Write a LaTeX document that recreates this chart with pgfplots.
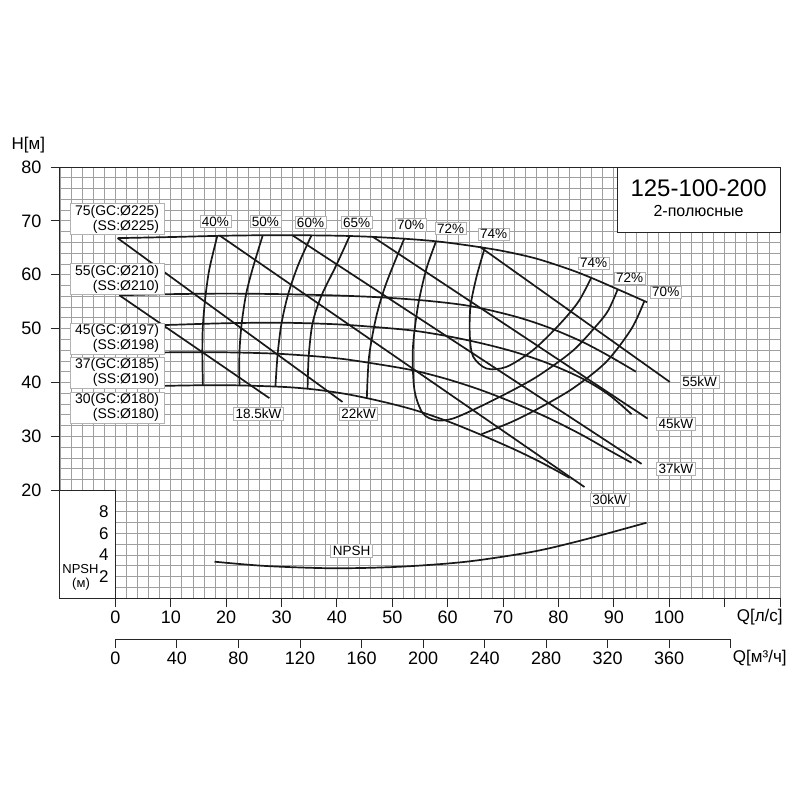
\documentclass[border=0pt]{standalone}
\usepackage{fontspec}
\setmainfont{Liberation Sans}
\usepackage{pgfplots}
\pgfplotsset{compat=1.18}
\pgfplotsset{
 crv/.style={black!90, line width=1.7pt, smooth, mark=none},
 lin/.style={black!90, line width=1.7pt, mark=none},
}
\tikzset{
 lbl/.style={fill=white, draw=gray!60, line width=0.6pt, inner xsep=2pt, inner ysep=1.5pt, font=\fontsize{13.5}{13.5}\selectfont},
 dlbl/.style={fill=white, draw=gray!60, line width=0.6pt, inner xsep=5pt, inner ysep=1.5pt, align=right, anchor=east, font=\fontsize{14}{15}\selectfont},
}
\begin{document}
\begin{tikzpicture}[x=1pt,y=1pt]
\useasboundingbox (-60,-202) rectangle (740,598);
\begin{axis}[
  at={(0,0)}, anchor=south west,
  scale only axis, width=720pt, height=431pt,
  xmin=-10, xmax=120, ymin=0, ymax=80,
  clip=false,
  axis line style={draw=none},
  minor xtick={-10,-8,...,120},
  minor ytick={0,2,...,80},
  grid=minor,
  minor grid style={gray!75, line width=0.8pt},
  minor tick length=0pt,
  xtick={0,10,...,120},
  xticklabels={0,10,20,30,40,50,60,70,80,90,100,{},{}},
  ytick={20,30,...,80},
  tick pos=left,
  tick align=outside,
  major tick length=9pt,
  tick style={black!85, line width=1pt},
  ticklabel style={font=\fontsize{18}{18}\selectfont},
  yticklabel style={xshift=-6pt},
  /pgf/number format/assume math mode=true,
]
% frame
\draw[black!85, line width=1pt] (axis cs:-10,0) -- (axis cs:-10,80) -- (axis cs:120,80);
\draw[black!85, line width=1pt] (axis cs:-10,0) -- (axis cs:120,0);
\draw[gray!80, line width=0.8pt] (axis cs:120,0) -- (axis cs:120,80);

% impeller curves
\addplot[crv] coordinates {(0.4,66.8)(10,67.0)(20,67.25)(30,67.35)(40,67.25)(46,67.05)(52,66.7)(58,66.2)(64,65.4)(70,64.4)(76,63.0)(82,61.0)(86,59.4)(90.7,57.3)(96,54.9)};
\addplot[crv] coordinates {(0.7,56.2)(10,56.4)(20,56.5)(30,56.4)(40,56.15)(48,55.8)(56,55.2)(64,54.2)(72,52.3)(78,50.3)(84,47.7)(89,45.0)(94,42.0)};
\addplot[crv] coordinates {(0.7,50.4)(10,50.7)(20,51.0)(30,51.1)(40,50.8)(48,50.2)(54,49.6)(60,48.6)(66,47.3)(72,45.7)(78,43.6)(84,40.9)(89,37.8)(93.2,34.1)};
\addplot[crv] coordinates {(0.7,45.4)(10,45.6)(20,45.6)(30,45.3)(40,44.5)(48,43.3)(54,42.2)(60,40.6)(66,38.6)(72,36.2)(78,33.5)(84,30.4)(89,27.5)(93.2,25.1)};
\addplot[crv] coordinates {(0.7,39.1)(10,39.4)(20,39.5)(30,39.2)(36,38.7)(42,37.8)(48,36.5)(54,34.9)(60,32.8)(66,30.3)(72,27.6)(77,25.1)(82,22.3)};

% power lines
\addplot[lin] coordinates {(0.7,56.2)(27.8,37.1)};
\addplot[lin] coordinates {(0.4,66.8)(41.0,36.4)};
\addplot[lin] coordinates {(18.8,67.3)(84.7,20.6)};
\addplot[lin] coordinates {(32.0,67.3)(95.0,24.9)};
\addplot[lin] coordinates {(46.4,67.1)(96.1,33.3)};
\addplot[lin] coordinates {(65.8,65.2)(100.1,40.1)};

% efficiency curves
\addplot[crv] coordinates {(18.4,67.2)(17.0,61.2)(16.3,56.3)(15.8,50.6)(15.7,45.4)(15.8,39.5)};
\addplot[crv] coordinates {(26.6,67.3)(24.8,61.2)(23.6,56.4)(22.8,50.9)(22.4,45.5)(22.4,39.5)};
\addplot[crv] coordinates {(35.4,67.3)(33.0,61.8)(31.2,56.4)(30.0,51.0)(29.3,45.3)(28.9,39.3)};
\addplot[crv] coordinates {(42.3,67.2)(39.9,61.8)(37.2,56.1)(35.6,51.0)(34.9,44.8)(34.7,38.8)};
\addplot[crv] coordinates {(52.2,66.8)(48.9,58.4)(47.1,52.2)(45.8,44.8)(45.4,37.1)};
\addplot[crv] coordinates {(57.9,66.2)(56.1,60.9)(54.6,54.0)(53.7,46.0)(54.0,38.6)(55.5,34.3)(57.9,33.0)(60.9,33.3)(65.8,35.5)(71.8,38.6)(76.6,41.4)(82.6,45.9)(86.9,50.6)(89.0,53.4)(90.7,57.3)};
\addplot[crv] coordinates {(66.7,65.0)(65.2,59.6)(64.1,54.0)(64.0,48.5)(64.6,44.8)(67.0,42.6)(70.6,42.9)(75.4,46.0)(80.2,50.8)(83.6,55.0)(85.9,59.4)};
\addplot[crv] coordinates {(95.5,55.1)(93.2,50.0)(88.6,43.8)(82.6,38.9)(76.6,35.3)(71.8,32.8)(66.1,30.4)};

% NPSH box
\fill[white] (axis cs:-10,0) rectangle (axis cs:0,20);
\draw[black!85, line width=1pt] (axis cs:-10,0) rectangle (axis cs:0,20);
\node[anchor=east, font=\fontsize{17}{17}\selectfont] at (axis cs:-0.6,16) {8};
\node[anchor=east, font=\fontsize{17}{17}\selectfont] at (axis cs:-0.6,12) {6};
\node[anchor=east, font=\fontsize{17}{17}\selectfont] at (axis cs:-0.6,8) {4};
\node[anchor=east, font=\fontsize{17}{17}\selectfont] at (axis cs:-0.6,4) {2};
\node[font=\fontsize{13}{13}\selectfont, inner sep=0pt] at (axis cs:-6.3,5.3) {NPSH};
\node[font=\fontsize{13}{13}\selectfont, inner sep=0pt] at (axis cs:-6.2,2.6) {(м)};

% NPSH curve (NPSH values, drawn on a 2:1 scale)
\addplot[crv] table[x=q, y expr=2*\thisrow{npsh}] {
q npsh
17.9 3.37
27.2 2.97
39.3 2.76
51.3 2.90
63.4 3.37
75.4 4.30
84.4 5.38
95.9 6.99
};

% m3/h axis
\draw[black!85, line width=1pt] (axis cs:0,-7.79) -- (axis cs:111.11,-7.79);
\pgfplotsinvokeforeach{0,40,80,120,160,200,240,280,320,360,400}{
  \draw[black!85, line width=1pt] (axis cs:#1/3.6,-7.79) -- (axis cs:#1/3.6,-9.3);
}
\pgfplotsinvokeforeach{0,40,80,120,160,200,240,280,320,360}{
  \node[font=\fontsize{18}{18}\selectfont] at (axis cs:#1/3.6,-11.13) {#1};
}
\node[font=\fontsize{17}{17}\selectfont] at (axis cs:116.35,-3.53) {Q[л/с]};
\node[font=\fontsize{17}{17}\selectfont] at (axis cs:116.35,-11.13) {Q[м³/ч]};
\node[font=\fontsize{17}{17}\selectfont] at (axis cs:-15.7,84.0) {H[м]};

% title box
\draw[draw=black!85, fill=white, line width=1pt] (axis cs:90.7,67.9) rectangle (axis cs:120,80);
\node[font=\fontsize{24}{24}\selectfont] at (axis cs:105.3,76.1) {125-100-200};
\node[font=\fontsize{16}{16}\selectfont] at (axis cs:105.3,71.8) {2-полюсные};

% diameter labels
\node[dlbl] at (axis cs:8.85,70.3) {75(GC:Ø225)\\(SS:Ø225)};
\node[dlbl] at (axis cs:8.85,59.2) {55(GC:Ø210)\\(SS:Ø210)};
\node[dlbl] at (axis cs:8.85,48.1) {45(GC:Ø197)\\(SS:Ø198)};
\node[dlbl] at (axis cs:8.85,41.8) {37(GC:Ø185)\\(SS:Ø190)};
\node[dlbl] at (axis cs:8.85,35.3) {30(GC:Ø180)\\(SS:Ø180)};

% efficiency labels
\node[lbl] at (axis cs:18.07,69.9) {40\%};
\node[lbl] at (axis cs:27.1,69.9) {50\%};
\node[lbl] at (axis cs:35.23,69.7) {60\%};
\node[lbl] at (axis cs:43.54,69.7) {65\%};
\node[lbl] at (axis cs:53.3,69.3) {70\%};
\node[lbl] at (axis cs:60.52,68.6) {72\%};
\node[lbl] at (axis cs:68.29,67.5) {74\%};
\node[lbl] at (axis cs:86.36,62.15) {74\%};
\node[lbl] at (axis cs:92.86,59.37) {72\%};
\node[lbl] at (axis cs:99.37,56.77) {70\%};

% power labels
\node[lbl] at (axis cs:25.84,34.14) {18.5kW};
\node[lbl] at (axis cs:43.9,34.14) {22kW};
\node[lbl] at (axis cs:89.25,18.18) {30kW};
\node[lbl] at (axis cs:101.2,23.93) {37kW};
\node[lbl] at (axis cs:101.2,32.28) {45kW};
\node[lbl] at (axis cs:105.5,40.07) {55kW};
\node[lbl] at (axis cs:42.64,8.72) {NPSH};
\end{axis}
\end{tikzpicture}
\end{document}
